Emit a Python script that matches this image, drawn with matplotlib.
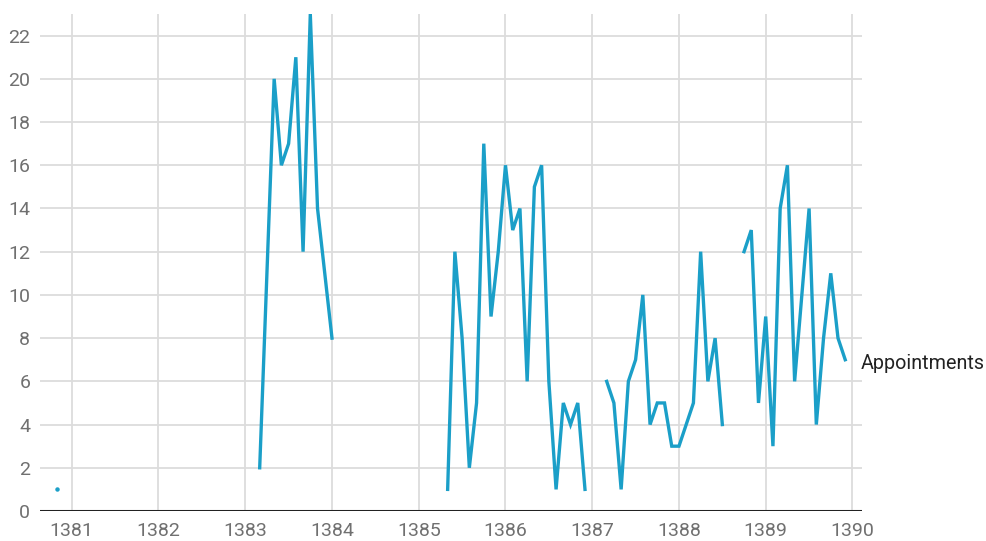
import numpy as np
import matplotlib
matplotlib.use("Agg")
import matplotlib.pyplot as plt

plt.rcParams['font.family'] = ['Roboto', 'DejaVu Sans']

# monthly appointments, each run of months starts at (year, month index 0-11)
seg_starts = [(1380, 10), (1383, 2), (1385, 4), (1387, 2), (1388, 9)]
seg_values = [
    [1],
    [2, 11, 20, 16, 17, 21, 12, 23, 14, 11, 8],
    [1, 12, 8, 2, 5, 17, 9, 12, 16, 13, 14, 6, 15, 16, 6, 1, 5, 4, 5, 1],
    [6, 5, 1, 6, 7, 10, 4, 5, 5, 3, 3, 4, 5, 12, 6, 8, 4],
    [12, 13, 5, 9, 3, 14, 16, 6, 10, 14, 4, 8, 11, 8, 7],
]
series_name = "Appointments"
x_ticks = [1381, 1382, 1383, 1384, 1385, 1386, 1387, 1388, 1389, 1390]
y_ticks = [0, 2, 4, 6, 8, 10, 12, 14, 16, 18, 20, 22]

line_color = "#1b9fc8"

xs, ys = [], []
single_x, single_y = [], []
for (yr, mo), vals in zip(seg_starts, seg_values):
    sx = [yr + (mo + i) / 12 for i in range(len(vals))]
    if len(vals) == 1:
        single_x += sx
        single_y += vals
    xs += sx + [np.nan]
    ys += vals + [np.nan]

fig = plt.figure(figsize=(9.86, 5.41), dpi=100)
ax = fig.add_axes([40 / 986, 30 / 541, 822 / 986, 497 / 541])

ax.plot(xs, ys, color=line_color, lw=2.4, solid_joinstyle='miter', zorder=3)
ax.plot(single_x, single_y, 'o', color=line_color, ms=2.2, zorder=3)

ax.set_xlim(1380.634, 1390.11)
ax.set_ylim(0, 23)
ax.set_xticks(x_ticks)
ax.set_yticks(y_ticks)
ax.grid(True, color="#dcdcdc", lw=1.3)
ax.set_axisbelow(True)
for s in ax.spines.values():
    s.set_visible(False)
ax.axhline(0, color="#222222", lw=2.2, zorder=4)
ax.tick_params(length=0, labelsize=14, labelcolor="#707070")
ax.tick_params(axis='x', pad=8)
ax.tick_params(axis='y', pad=7)

# series label at the end of the line
last_x = seg_starts[-1][0] + (seg_starts[-1][1] + len(seg_values[-1]) - 1) / 12
ax.annotate(series_name, xy=(last_x, seg_values[-1][-1]), xytext=(11, -3),
            textcoords='offset points', va='center', ha='left',
            fontsize=14.2, color="#222222", annotation_clip=False)

fig.savefig("out.png", dpi=100)
